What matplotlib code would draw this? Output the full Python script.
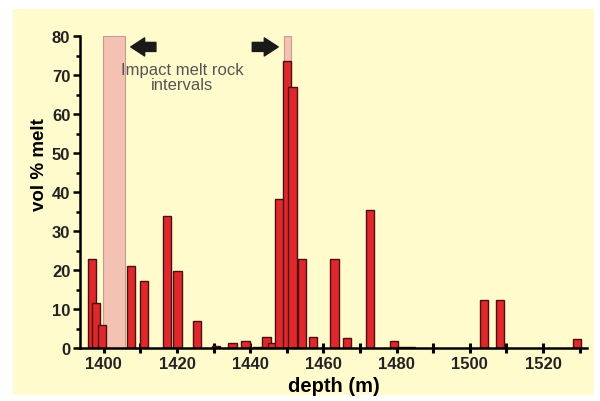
#!/usr/bin/env python3

import matplotlib.pyplot as plt
from matplotlib.patches import Rectangle

# depth (m) of each sample and its melt content (vol %)
depths = [1396.8, 1397.9, 1399.5, 1407.5, 1411.0, 1417.3, 1420.1, 1425.5,
          1430.6, 1435.2, 1438.7, 1442.0, 1444.5, 1446.0, 1448.0, 1450.0,
          1451.5, 1454.1, 1457.2, 1463.0, 1466.5, 1472.7, 1479.2, 1481.5,
          1483.8, 1503.9, 1508.3, 1529.2]
melt = [22.8, 11.6, 6.0, 21.0, 17.3, 33.8, 19.8, 6.8,
        0.4, 1.4, 1.7, 0.3, 2.7, 1.2, 38.1, 73.5,
        66.8, 22.9, 2.7, 22.9, 2.6, 35.3, 1.7, 0.3,
        0.3, 12.2, 12.3, 2.2]

# impact melt rock intervals (start, end) in m
intervals = [(1399.8, 1405.8), (1449.2, 1451.2)]

cream = "#fffbcc"
red = "#e0282c"

plt.rcParams["font.family"] = ["Liberation Sans", "DejaVu Sans"]

fig = plt.figure(figsize=(6, 4.02), dpi=100)
fig.patch.set_facecolor("white")
fig.patches.append(Rectangle((13 / 600, 1 - 396 / 402), 581 / 600, 386 / 402,
                             transform=fig.transFigure, facecolor=cream,
                             edgecolor="none", zorder=-10))

ax = fig.add_axes([80 / 600, 1 - 349 / 402, 507 / 600, 312 / 402])
ax.set_facecolor(cream)

for start, end in intervals:
  ax.bar(start, 80, width=end - start, align="edge", color="#f4c2b2",
         edgecolor="#c89a90", linewidth=0.8, zorder=1)

ax.bar(depths, melt, width=2.3, color=red, edgecolor="#4a1010",
       linewidth=1.0, zorder=2)

ax.set_xlim(1393.5, 1532)
ax.set_ylim(0, 80)
ax.set_xticks(range(1400, 1540, 20))
ax.set_xticks(range(1410, 1540, 20), minor=True)
ax.set_yticks(range(0, 90, 10))
ax.set_yticks(range(5, 80, 10), minor=True)

for side in ["top", "right"]:
  ax.spines[side].set_visible(False)
ax.spines["left"].set_linewidth(1.8)
ax.spines["bottom"].set_linewidth(1.8)
ax.tick_params(axis="both", which="major", width=1.8, length=5,
               labelsize=12, pad=2)
ax.tick_params(axis="x", which="both", direction="inout", length=7, width=2.2)
ax.tick_params(axis="y", which="minor", length=3, width=1.8)
for lbl in ax.get_xticklabels() + ax.get_yticklabels():
  lbl.set_fontweight("bold")
  lbl.set_color("#222222")

ax.set_xlabel("depth (m)", fontsize=14.5, fontweight="bold", labelpad=4)
ax.set_ylabel("vol % melt", fontsize=13.5, fontweight="bold")
ax.yaxis.set_label_coords(-0.063, 0.59)

ax.text(1421.5, 69.5, "Impact melt rock\nintervals", ha="center", va="center",
        fontsize=12, color="#555555", linespacing=1.05)
arrow_style = dict(arrowstyle="simple,head_width=1.3,head_length=1.0,tail_width=0.65",
                   color="#1a1a1a")
ax.annotate("", xy=(1406.6, 77.2), xytext=(1415.0, 77.2), arrowprops=arrow_style)
ax.annotate("", xy=(1448.4, 77.2), xytext=(1439.8, 77.2), arrowprops=arrow_style)

fig.savefig("out.png", dpi=100)
